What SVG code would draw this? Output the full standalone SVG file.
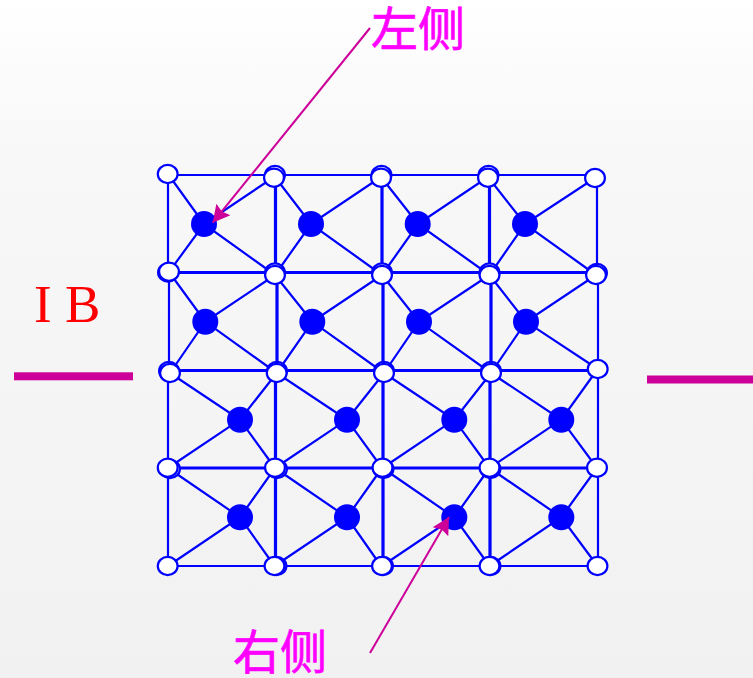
<svg xmlns="http://www.w3.org/2000/svg" width="753" height="678" viewBox="0 0 753 678">
<style>
.g{stroke:#0000ff;fill:none}
.s{stroke-width:2.200}
.t{stroke-width:3.200}
.o{fill:#fff;stroke:#0000ff;stroke-width:2.200;rx:9.900px;ry:9.100px}
.f{fill:#0000ff}
.m{stroke:#cc0099;fill:none;stroke-width:2}
.lb{font-family:"Liberation Serif","Noto Sans CJK SC",serif;font-size:47px;fill:#ff00ff;stroke:#ff00ff;stroke-width:.7}
</style>
<defs>
<linearGradient id="bg" x1="0" y1="0" x2="0" y2="1"><stop offset="0" stop-color="#ffffff"/><stop offset="0.22" stop-color="#f8f8f8"/><stop offset="1" stop-color="#f1f1f1"/></linearGradient>
<marker id="a" markerUnits="userSpaceOnUse" markerWidth="18" markerHeight="20" refX="17" refY="10" orient="auto"><path d="M0 1L17 10L0 19L2.500 10z" fill="#cc0099"/></marker>
</defs>
<rect width="753" height="678" fill="url(#bg)"/>
<g id="connectors">
<path class="g s" d="M168 175H597M168 566H597M168 174V272M169 272V371M168 371V566M597 178V272M598 275V369M598 369V566"/>
<path class="g t" d="M168 272.500H597M169 370.500H597M169 468H597M275.500 177V272M277 275V371M275.500 371V566M382 177V272M383 275V371M383 371V566M489.500 177V272M491 275V371M490 371V566"/>
<path class="g s" d="M168 174L204 224L274 177M169 272L204 224L275 275M275 177L311 224L381 177M275 275L311 224L382 275M381 177L418 224L488 177M382 275L418 224L489.500 275M488 177L525 224L595 178M489.500 275L525 224L596 275"/>
<path class="g s" d="M169 272L205.300 321.700L275 275M170 373L205.300 321.700L276.700 373M275 275L312.300 321.700L382 275M276.700 373L312.300 321.700L384 373M382 275L419 321.700L489.500 275M384 373L419 321.700L491 373M489.500 275L526 321.700L596 275M491 373L526 321.700L597.700 369"/>
<path class="g s" d="M170 373L240 419.700L276.700 373M168 468L240 419.700L275 468M276.700 373L347 419.700L384 373M275 468L347 419.700L382 468M384 373L454.300 419.700L491 373M382.500 468L454.300 419.700L489.500 468M491 373L561.300 419.700L597.700 369M489.500 468L561.300 419.700L597 468"/>
<path class="g s" d="M168 468L240 517.300L275 468M168 566L240 517.300L274.500 566M275 468L347 517.300L382 468M274.500 566L347 517.300L381 566M382.500 468L454.300 517.300L489.500 468M382 566L454.300 517.300L489.500 566M489.500 468L561.300 517.300L597 468M489.500 566L561.300 517.300L597.500 566"/>
</g>
<g id="open-nodes">
<ellipse class="o" cx="167.700" cy="174"/>
<ellipse class="o" cx="275" cy="175"/><ellipse class="o" cx="274" cy="177.700"/>
<ellipse class="o" cx="381.500" cy="175"/><ellipse class="o" cx="381" cy="177.700"/>
<ellipse class="o" cx="488.500" cy="175"/><ellipse class="o" cx="488" cy="177.700"/>
<ellipse class="o" cx="595" cy="178"/>
<ellipse class="o" cx="168" cy="272.500"/><ellipse class="o" cx="169" cy="271.700"/>
<ellipse class="o" cx="275" cy="272.500"/><ellipse class="o" cx="275" cy="275"/>
<ellipse class="o" cx="382" cy="272.500"/><ellipse class="o" cx="382" cy="275"/>
<ellipse class="o" cx="489.500" cy="272.500"/><ellipse class="o" cx="489.500" cy="275"/>
<ellipse class="o" cx="597" cy="273"/><ellipse class="o" cx="596" cy="275"/>
<ellipse class="o" cx="169" cy="371"/><ellipse class="o" cx="170" cy="373"/>
<ellipse class="o" cx="277" cy="371"/><ellipse class="o" cx="276.700" cy="373"/>
<ellipse class="o" cx="384" cy="371"/><ellipse class="o" cx="384" cy="373"/>
<ellipse class="o" cx="491" cy="371"/><ellipse class="o" cx="491" cy="373"/>
<ellipse class="o" cx="597.700" cy="369"/>
<ellipse class="o" cx="170" cy="469"/><ellipse class="o" cx="167.700" cy="467.700"/>
<ellipse class="o" cx="277" cy="469"/><ellipse class="o" cx="275" cy="467.700"/>
<ellipse class="o" cx="383.500" cy="469"/><ellipse class="o" cx="382.500" cy="467.700"/>
<ellipse class="o" cx="490.500" cy="469"/><ellipse class="o" cx="489.500" cy="467.700"/>
<ellipse class="o" cx="597" cy="467.700"/>
<ellipse class="o" cx="167.700" cy="566"/>
<ellipse class="o" cx="276.500" cy="566"/><ellipse class="o" cx="274.500" cy="566"/>
<ellipse class="o" cx="383" cy="566"/><ellipse class="o" cx="382" cy="566"/>
<ellipse class="o" cx="490.500" cy="566"/><ellipse class="o" cx="489.500" cy="566"/>
<ellipse class="o" cx="597.500" cy="566"/>
</g>
<g id="filled-nodes" class="f">
<circle cx="204" cy="224" r="13"/><circle cx="311" cy="224" r="13"/><circle cx="417.700" cy="224" r="13"/><circle cx="525" cy="224" r="13"/>
<circle cx="205.300" cy="321.700" r="13"/><circle cx="312.300" cy="321.700" r="13"/><circle cx="419" cy="321.700" r="13"/><circle cx="526" cy="321.700" r="13"/>
<circle cx="240" cy="419.700" r="13"/><circle cx="347" cy="419.700" r="13"/><circle cx="454.300" cy="419.700" r="13"/><circle cx="561.300" cy="419.700" r="13"/>
<circle cx="240" cy="517.300" r="13"/><circle cx="347" cy="517.300" r="13"/><circle cx="454.300" cy="517.300" r="13"/><circle cx="561.300" cy="517.300" r="13"/>
</g>
<g id="arrows">
<path d="M370 28L212.700 222.700" class="m" marker-end="url(#a)"/>
<path d="M370 653L449 517" class="m" marker-end="url(#a)"/>
</g>
<rect id="bar-left" x="14" y="372.300" width="119" height="8" fill="#cc0099"/>
<rect id="bar-right" x="647" y="375.500" width="106" height="8" fill="#cc0099"/>
<text id="ib" x="34" y="322" font-family="Liberation Serif,serif" font-size="53" fill="#ff0000" xml:space="preserve">I B</text>
<text id="left-label" class="lb" x="371" y="45.500">左侧</text>
<text id="right-label" class="lb" x="233" y="669">右侧</text>
</svg>
